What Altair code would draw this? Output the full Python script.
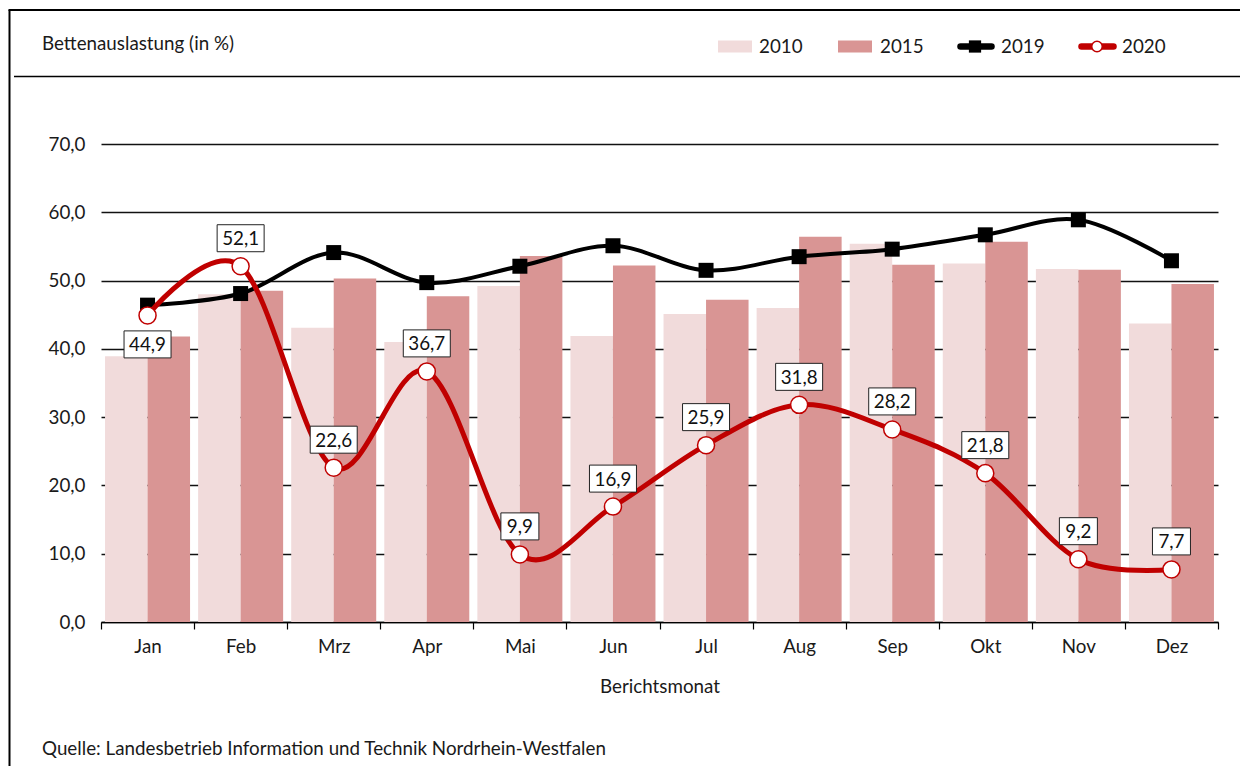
import altair as alt
import pandas as pd

months = ["Jan", "Feb", "Mrz", "Apr", "Mai", "Jun", "Jul", "Aug", "Sep", "Okt", "Nov", "Dez"]
v2010 = [38.9, 48.0, 43.1, 41.0, 49.2, 41.9, 45.1, 46.0, 55.4, 52.5, 51.7, 43.7]
v2015 = [41.8, 48.5, 50.3, 47.7, 53.6, 52.2, 47.2, 56.4, 52.3, 55.7, 51.6, 49.5]
v2019 = [46.4, 48.1, 54.1, 49.7, 52.1, 55.1, 51.5, 53.5, 54.6, 56.7, 58.9, 52.9]
v2020 = [44.9, 52.1, 22.6, 36.7, 9.9, 16.9, 25.9, 31.8, 28.2, 21.8, 9.2, 7.7]
y_ticks = [0, 10, 20, 30, 40, 50, 60, 70]

FONT = "Lato"
FS = 18.8
W, H = 1117, 478

bars = pd.DataFrame(
    [{"month": m, "year": "2010", "value": v} for m, v in zip(months, v2010)]
    + [{"month": m, "year": "2015", "value": v} for m, v in zip(months, v2015)]
)
d19 = pd.DataFrame({"month": months, "value": v2019})
d20 = pd.DataFrame({"month": months, "value": v2020})
d20["label"] = [f"{v:.1f}".replace(".", ",") for v in v2020]


def box(lbl):
    hw = 23.5 if len(lbl) >= 4 else 19
    return f"M{-hw},-13.5H{hw}V13.5H{-hw}Z"


d20["box"] = [box(l) for l in d20["label"]]

x_enc = alt.X(
    "month:N",
    sort=months,
    scale=alt.Scale(domain=months, paddingInner=0, paddingOuter=0),
    axis=alt.Axis(
        title="Berichtsmonat",
        labelAngle=0,
        tickBand="extent",
        grid=False,
        domainColor="#000",
        domainWidth=1.5,
        tickColor="#000",
        tickWidth=1.2,
        tickSize=7,
        labelPadding=8,
        labelFontSize=FS,
        labelColor="#1a1a1a",
        titleFontSize=FS,
        titleFontWeight="normal",
        titleColor="#1a1a1a",
        titlePadding=22,
    ),
)
y_enc = alt.Y(
    "value:Q",
    scale=alt.Scale(domain=[0, 70], nice=False),
    axis=alt.Axis(
        title=None,
        values=y_ticks,
        labelExpr="replace(format(datum.value, '.1f'), '.', ',')",
        domain=False,
        ticks=False,
        labelPadding=16,
        labelFontSize=FS,
        labelColor="#1a1a1a",
        grid=True,
        gridColor="#111",
        gridWidth=1.3,
    ),
)

bar_layer = alt.Chart(bars).mark_bar(opacity=1).encode(
    x=x_enc,
    xOffset=alt.XOffset("year:N", scale=alt.Scale(paddingOuter=0.095, paddingInner=0)),
    y=y_enc,
    color=alt.Color("year:N", scale=alt.Scale(domain=["2010", "2015"], range=["#F1DBDB", "#D99594"]), legend=None),
)

line19 = alt.Chart(d19).mark_line(interpolate="cardinal", color="#000", strokeWidth=4).encode(x=x_enc, y=y_enc)
pts19 = alt.Chart(d19).mark_square(size=225, color="#000", opacity=1).encode(x=x_enc, y=y_enc)
line20 = alt.Chart(d20).mark_line(interpolate="cardinal", color="#C00000", strokeWidth=5).encode(x=x_enc, y=y_enc)
pts20 = alt.Chart(d20).mark_point(
    shape="circle", filled=True, fill="white", stroke="#C00000", strokeWidth=1.5, size=290, opacity=1
).encode(x=x_enc, y=y_enc)

below = alt.datum.month == "Jan"
box_up = alt.Chart(d20).transform_filter(~below).mark_point(
    filled=True, fill="white", stroke="#222", strokeWidth=1, size=4, opacity=1, yOffset=-28
).encode(x=x_enc, y=y_enc, shape=alt.Shape("box:N", scale=None))
txt_up = alt.Chart(d20).transform_filter(~below).mark_text(
    fontSize=FS, yOffset=-27, color="#111", baseline="middle"
).encode(x=x_enc, y=y_enc, text="label:N")
box_dn = alt.Chart(d20).transform_filter(below).mark_point(
    filled=True, fill="white", stroke="#222", strokeWidth=1, size=4, opacity=1, yOffset=29
).encode(x=x_enc, y=y_enc, shape=alt.Shape("box:N", scale=None))
txt_dn = alt.Chart(d20).transform_filter(below).mark_text(
    fontSize=FS, yOffset=30, color="#111", baseline="middle"
).encode(x=x_enc, y=y_enc, text="label:N")

one = alt.Chart(pd.DataFrame({"d": [0]}))
RIGHT = 1139
frame_left = one.mark_rule(color="#000", strokeWidth=2).encode(
    x=alt.value(-91.5), y=alt.value(-134), y2=alt.value(622))
frame_top = one.mark_rule(color="#000", strokeWidth=2).encode(
    x=alt.value(-92.5), x2=alt.value(RIGHT), y=alt.value(-134))
divider = one.mark_rule(color="#000", strokeWidth=1.5).encode(
    x=alt.value(-87), x2=alt.value(RIGHT), y=alt.value(-67.5))


def txt(s, x, y, align="left"):
    return one.mark_text(align=align, baseline="middle", fontSize=FS, color="#1a1a1a").encode(
        x=alt.value(x), y=alt.value(y), text=alt.value(s))


ytitle = txt("Bettenauslastung (in %)", -59, -100)
source = txt("Quelle: Landesbetrieb Information und Technik Nordrhein-Westfalen", -59, 605)

LY = -97.5
leg = []
leg.append(one.mark_rect(color="#F1DBDB").encode(x=alt.value(617), x2=alt.value(651), y=alt.value(LY - 6), y2=alt.value(LY + 6)))
leg.append(txt("2010", 658, LY))
leg.append(one.mark_rect(color="#D99594").encode(x=alt.value(737), x2=alt.value(771), y=alt.value(LY - 6), y2=alt.value(LY + 6)))
leg.append(txt("2015", 779, LY))
leg.append(one.mark_rule(color="#000", strokeWidth=6.5, strokeCap="round").encode(x=alt.value(859.5), x2=alt.value(890.5), y=alt.value(LY)))
leg.append(one.mark_square(color="#000", size=150, opacity=1).encode(x=alt.value(874), y=alt.value(LY)))
leg.append(txt("2019", 900, LY))
leg.append(one.mark_rule(color="#C00000", strokeWidth=6.5, strokeCap="round").encode(x=alt.value(980.5), x2=alt.value(1012.5), y=alt.value(LY)))
leg.append(one.mark_point(shape="circle", filled=True, fill="white", stroke="#C00000", strokeWidth=1.5, size=110, opacity=1).encode(x=alt.value(996), y=alt.value(LY)))
leg.append(txt("2020", 1021, LY))

chart = alt.layer(
    bar_layer, line19, pts19, line20, pts20, box_up, txt_up, box_dn, txt_dn,
    frame_left, frame_top, divider, ytitle, source, *leg
).properties(
    width=W, height=H,
    autosize=alt.AutoSizeParams(type="none"),
    padding={"left": 93, "top": 136, "right": 22, "bottom": 144},
    background="white",
).configure(font=FONT).configure_view(stroke=None)

chart.save("out.html", embed_options={"renderer": "svg", "actions": False})
